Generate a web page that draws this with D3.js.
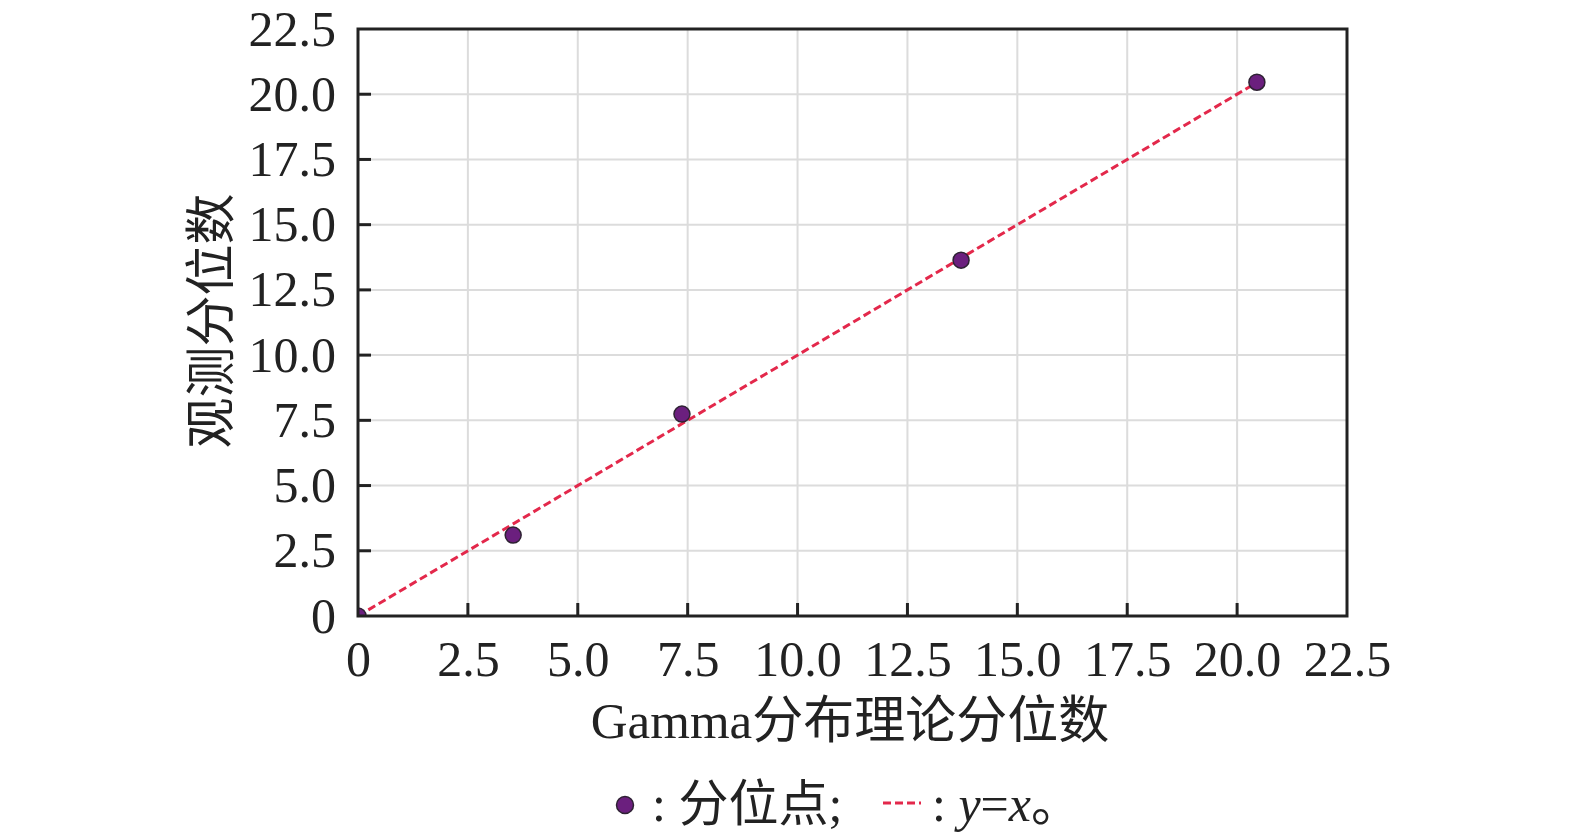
<!DOCTYPE html>
<html>
<head>
<meta charset="utf-8">
<script src="https://cdn.jsdelivr.net/npm/d3@7"></script>
<style>
  body { margin: 0; background: #fff; }
  svg text { font-family: "Liberation Serif", "Times New Roman", "Noto Sans CJK SC", serif; fill: #222; }
</style>
</head>
<body>
<script>
// 分位点数据
let teorico = [0, 3.53, 7.37, 13.72, 20.45];
let observado = [0, 3.1, 7.74, 13.64, 20.46];
let ticks = [0, 2.5, 5, 7.5, 10, 12.5, 15, 17.5, 20, 22.5];
let lineaRef = [0, 20.45];

function graficar() {
  let w = 1575;
  let h = 833;
  let m = { left: 358, top: 29, right: 1347, bottom: 616 };

  let svg = d3.select("body").append("svg").attr("width", w).attr("height", h);

  let x = d3.scaleLinear().domain([0, 22.5]).range([m.left, m.right]);
  let y = d3.scaleLinear().domain([0, 22.5]).range([m.bottom, m.top]);
  let fmt = function (d) { return d === 0 ? "0" : d3.format(".1f")(d); };

  svg.append("clipPath").attr("id", "area")
    .append("rect")
    .attr("x", m.left).attr("y", m.top)
    .attr("width", m.right - m.left).attr("height", m.bottom - m.top);

  // rejilla
  svg.append("g")
    .selectAll("line.gx")
    .data(ticks.slice(1))
    .enter()
    .append("line")
    .attr("x1", d => x(d)).attr("x2", d => x(d))
    .attr("y1", m.top).attr("y2", m.bottom)
    .attr("stroke", "#dcdcdc").attr("stroke-width", 2);

  svg.append("g")
    .selectAll("line.gy")
    .data(ticks.slice(1))
    .enter()
    .append("line")
    .attr("y1", d => y(d)).attr("y2", d => y(d))
    .attr("x1", m.left).attr("x2", m.right)
    .attr("stroke", "#dcdcdc").attr("stroke-width", 2);

  // línea y = x
  svg.append("line")
    .attr("x1", x(lineaRef[0])).attr("y1", y(lineaRef[0]))
    .attr("x2", x(lineaRef[1])).attr("y2", y(lineaRef[1]))
    .attr("stroke", "#e3284b").attr("stroke-width", 3)
    .attr("stroke-dasharray", "8,4");

  // puntos
  svg.append("g")
    .attr("clip-path", "url(#area)")
    .selectAll("circle.p")
    .data(teorico)
    .enter()
    .append("circle")
    .attr("cx", d => x(d))
    .attr("cy", (d, i) => y(observado[i]))
    .attr("r", 8)
    .attr("fill", "#6b1f7e")
    .attr("stroke", "#2e2233")
    .attr("stroke-width", 1.5);

  // ejes
  let ejeX = svg.append("g")
    .attr("transform", "translate(0," + m.bottom + ")")
    .call(d3.axisBottom(x).tickValues(ticks).tickFormat(fmt).tickSize(0).tickPadding(24));
  ejeX.select(".domain").remove();
  ejeX.selectAll("text").attr("font-size", 50).attr("font-family", "Liberation Serif").attr("fill", "#222");

  let ejeY = svg.append("g")
    .attr("transform", "translate(" + m.left + ",0)")
    .call(d3.axisLeft(y).tickValues(ticks).tickFormat(fmt).tickSize(0).tickPadding(22));
  ejeY.select(".domain").remove();
  ejeY.selectAll("text").attr("font-size", 50).attr("font-family", "Liberation Serif").attr("fill", "#222");

  // marcas hacia dentro
  let interiores = ticks.slice(1, -1);
  svg.selectAll("line.tx")
    .data(interiores)
    .enter()
    .append("line")
    .attr("x1", d => x(d)).attr("x2", d => x(d))
    .attr("y1", m.bottom).attr("y2", m.bottom - 13)
    .attr("stroke", "#222").attr("stroke-width", 3);
  svg.selectAll("line.ty")
    .data(interiores)
    .enter()
    .append("line")
    .attr("y1", d => y(d)).attr("y2", d => y(d))
    .attr("x1", m.left).attr("x2", m.left + 13)
    .attr("stroke", "#222").attr("stroke-width", 3);

  // marco
  svg.append("rect")
    .attr("x", m.left).attr("y", m.top)
    .attr("width", m.right - m.left).attr("height", m.bottom - m.top)
    .attr("fill", "none").attr("stroke", "#222").attr("stroke-width", 3);

  // títulos
  svg.append("text")
    .attr("x", 850).attr("y", 738)
    .attr("text-anchor", "middle")
    .attr("font-size", 51)
    .text("Gamma分布理论分位数");

  svg.append("text")
    .attr("transform", "translate(229,321) rotate(-90)")
    .attr("text-anchor", "middle")
    .attr("font-size", 51)
    .text("观测分位数");

  // leyenda
  svg.append("circle")
    .attr("cx", 625).attr("cy", 805).attr("r", 8.5)
    .attr("fill", "#6b1f7e").attr("stroke", "#2e2233").attr("stroke-width", 1.5);

  svg.append("text")
    .attr("x", 652).attr("y", 821)
    .attr("font-size", 50)
    .text(": 分位点;");

  svg.append("line")
    .attr("x1", 883).attr("x2", 921).attr("y1", 803).attr("y2", 803)
    .attr("stroke", "#e3284b").attr("stroke-width", 3)
    .attr("stroke-dasharray", "8,4");

  let t = svg.append("text")
    .attr("x", 932).attr("y", 821)
    .attr("font-size", 50);
  t.append("tspan").text(": ");
  t.append("tspan").attr("font-style", "italic").text("y");
  t.append("tspan").text("=");
  t.append("tspan").attr("font-style", "italic").text("x");
  t.append("tspan").text("。");
}

graficar();
</script>
</body>
</html>
